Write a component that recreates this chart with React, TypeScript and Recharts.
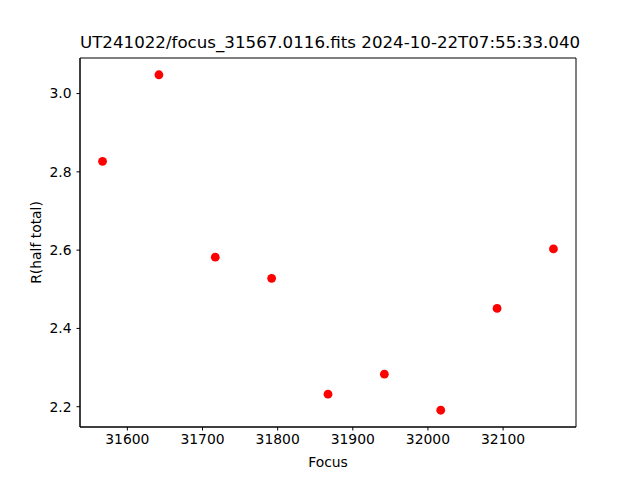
import { ScatterChart, Scatter, XAxis, YAxis, ReferenceArea } from 'recharts';

const focus = [31567, 31642, 31717, 31792, 31867, 31942, 32017, 32092, 32167];
const halfTotal = [2.827, 3.048, 2.582, 2.528, 2.232, 2.283, 2.191, 2.451, 2.603];
const xTicks = [31600, 31700, 31800, 31900, 32000, 32100];
const yTicks = [2.2, 2.4, 2.6, 2.8, 3.0];
const title = 'UT241022/focus_31567.0116.fits 2024-10-22T07:55:33.040';

const points = focus.map((f, i) => ({ focus: f, r: halfTotal[i] }));

const font = '"DejaVu Sans", sans-serif';
const tickStyle = { fill: '#000', fontSize: 13.9, fontFamily: font };

// matplotlib-style 5% padding around the data
const pad = (lo: number, hi: number): [number, number] => {
  const m = (hi - lo) * 0.05;
  return [lo - m, hi + m];
};
const xDomain = pad(Math.min(...focus), Math.max(...focus));
const yDomain = pad(Math.min(...halfTotal), Math.max(...halfTotal));

const Dot = (props: any) => <circle cx={props.cx} cy={props.cy} r={4.4} fill="#ff0000" />;

export default function App() {
  return (
    <div style={{ position: 'absolute', left: 0, top: 0, width: 640, height: 480, background: '#fff' }}>
      <div
        style={{
          position: 'absolute',
          left: 80,
          width: 496,
          top: 33,
          lineHeight: '20px',
          textAlign: 'center',
          fontFamily: font,
          fontSize: 16.67,
          color: '#000',
          whiteSpace: 'nowrap',
        }}
      >
        {title}
      </div>
      <ScatterChart width={640} height={480} margin={{ top: 58, right: 64, bottom: 0, left: 0 }}>
        <XAxis
          dataKey="focus"
          type="number"
          domain={xDomain}
          ticks={xTicks}
          allowDataOverflow
          height={53}
          tickSize={3.5}
          tickMargin={4}
          tick={tickStyle}
          stroke="#000"
          label={{ value: 'Focus', position: 'insideBottom', offset: 13, style: { fill: '#000', fontSize: 13.9, fontFamily: font } }}
        />
        <YAxis
          dataKey="r"
          type="number"
          domain={yDomain}
          ticks={yTicks}
          allowDataOverflow
          width={80}
          tickSize={3.5}
          tickMargin={5}
          tick={tickStyle}
          tickFormatter={(v: number) => v.toFixed(1)}
          stroke="#000"
          label={{
            value: 'R(half total)',
            angle: -90,
            position: 'insideLeft',
            offset: 36,
            style: { fill: '#000', fontSize: 13.9, fontFamily: font, textAnchor: 'middle' },
          }}
        />
        {/* axes frame */}
        <ReferenceArea
          x1={xDomain[0]}
          x2={xDomain[1]}
          y1={yDomain[0]}
          y2={yDomain[1]}
          fill="none"
          fillOpacity={0}
          stroke="#000"
          strokeWidth={1}
          ifOverflow="visible"
        />
        <Scatter data={points} fill="#ff0000" shape={Dot} isAnimationActive={false} />
      </ScatterChart>
    </div>
  );
}
